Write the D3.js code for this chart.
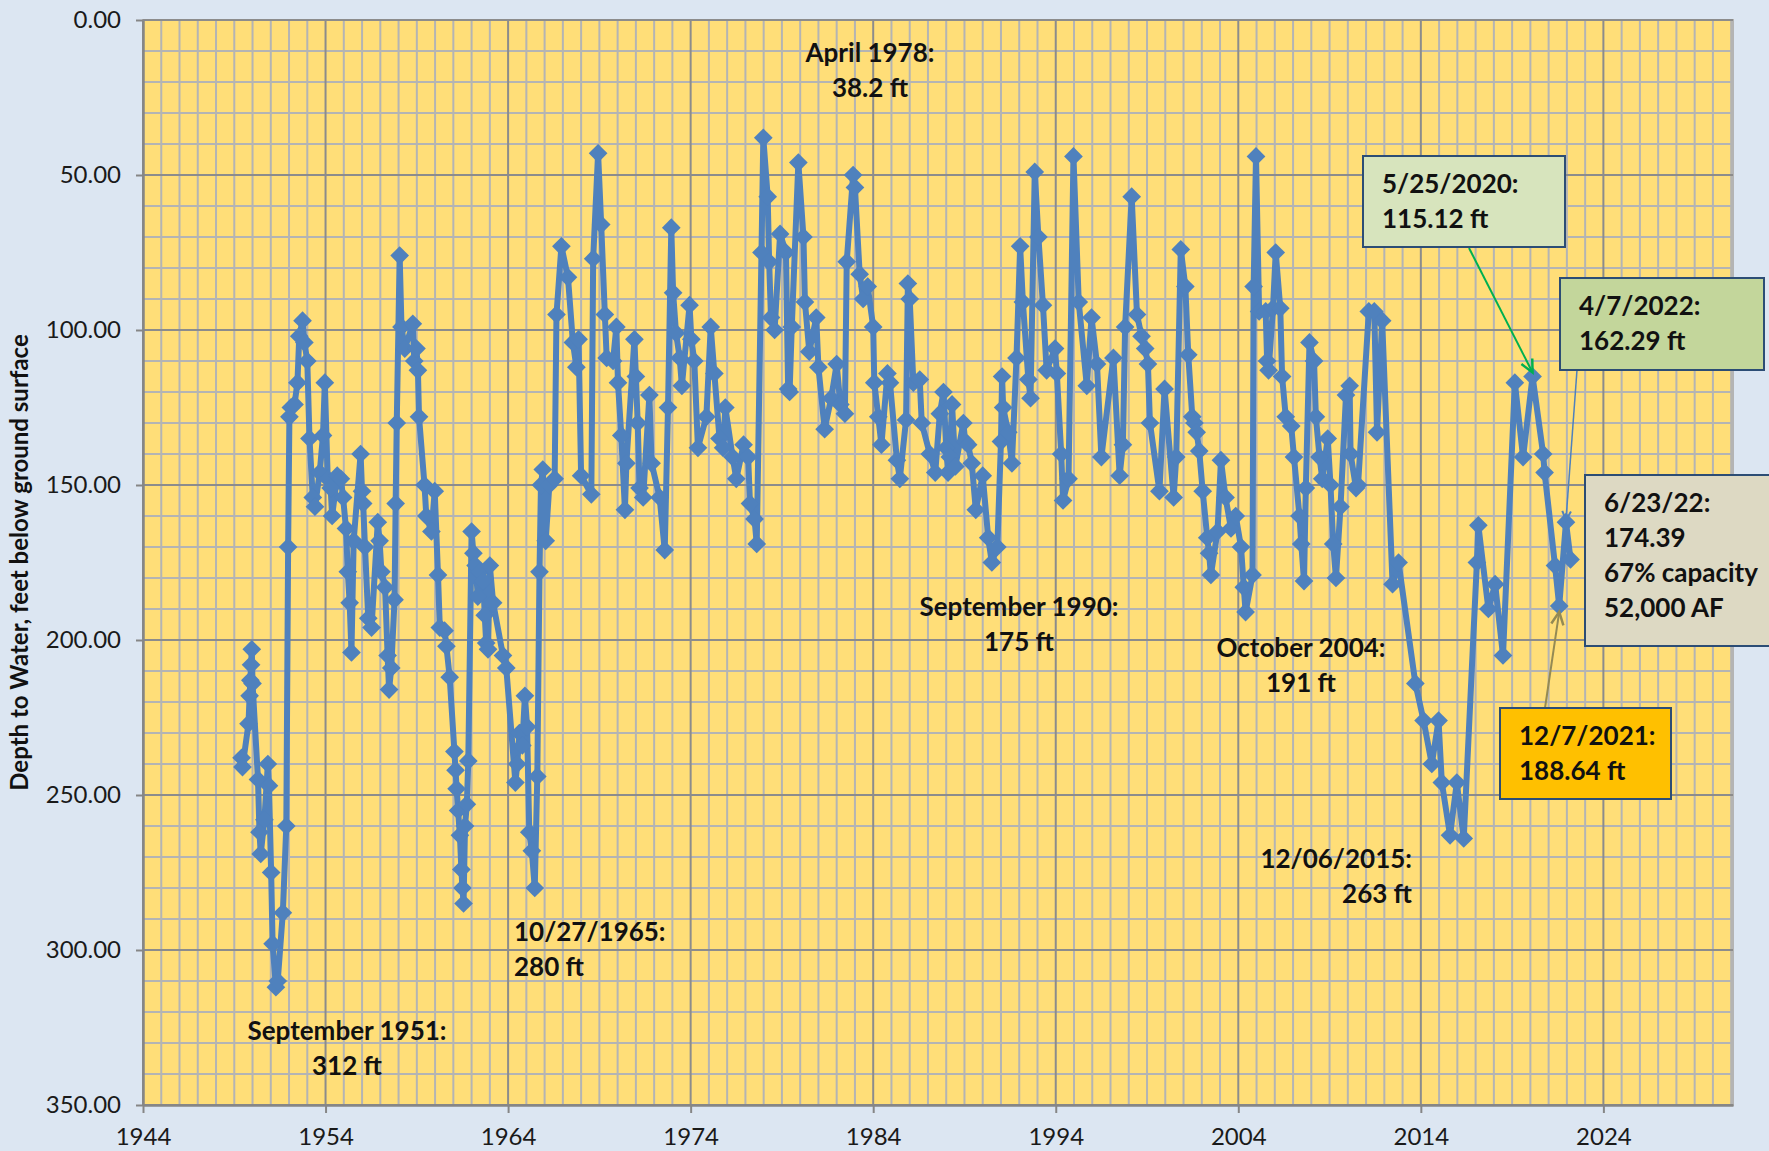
<!DOCTYPE html>
<html>
<head>
<meta charset="utf-8">
<script src="https://cdn.jsdelivr.net/npm/d3@7"></script>
<style>
  body { margin: 0; background: #dce6f2; }
  svg { display: block; }
</style>
</head>
<body>
<script>
(function(){

    //well readings: date (decimal year, as placed on the chart axis) and depth to water (ft)
    var readYears = [
        1949.40,1949.45,1949.78,1949.84,1949.88,1949.92,1949.96,1950.00,1950.30,1950.38,
        1950.45,1950.65,1950.84,1950.90,1951.02,1951.10,1951.28,1951.38,1951.66,1951.85,
        1951.95,1952.02,1952.10,1952.30,1952.46,1952.56,1952.74,1952.84,1953.00,1953.12,
        1953.30,1953.42,1953.68,1953.86,1953.96,1954.12,1954.28,1954.36,1954.64,1954.84,
        1954.96,1955.12,1955.22,1955.32,1955.42,1955.54,1955.92,1956.00,1956.06,1956.16,
        1956.34,1956.52,1956.86,1956.96,1957.06,1957.26,1957.40,1957.48,1957.60,1957.78,
        1957.84,1957.90,1958.06,1958.16,1958.34,1958.78,1958.86,1958.98,1959.06,1959.12,
        1959.42,1959.52,1959.80,1959.98,1960.16,1960.26,1960.52,1960.62,1960.80,1961.06,
        1961.12,1961.18,1961.26,1961.36,1961.44,1961.50,1961.56,1961.64,1961.74,1961.82,
        1962.00,1962.10,1962.22,1962.34,1962.46,1962.64,1962.72,1962.80,1962.90,1963.00,
        1963.18,1963.72,1963.90,1964.40,1964.50,1964.62,1964.78,1964.92,1965.04,1965.16,
        1965.30,1965.46,1965.60,1965.72,1965.80,1965.90,1966.06,1966.26,1966.55,1966.65,
        1966.92,1967.28,1967.55,1967.74,1967.86,1968.00,1968.56,1968.66,1968.93,1969.10,
        1969.30,1969.40,1969.75,1969.93,1970.02,1970.20,1970.40,1970.48,1970.92,1971.00,
        1971.10,1971.20,1971.40,1971.74,1971.86,1972.30,1972.58,1972.76,1972.94,1973.04,
        1973.20,1973.40,1973.52,1973.94,1974.04,1974.20,1974.40,1974.86,1975.10,1975.30,
        1975.58,1975.78,1975.90,1976.30,1976.50,1976.90,1977.15,1977.25,1977.50,1977.62,
        1977.88,1977.98,1978.22,1978.30,1978.40,1978.60,1978.90,1979.22,1979.34,1979.42,
        1979.54,1979.90,1980.18,1980.26,1980.50,1980.88,1981.00,1981.34,1981.70,1982.00,
        1982.20,1982.45,1982.55,1982.90,1983.00,1983.26,1983.45,1983.70,1984.00,1984.06,
        1984.28,1984.45,1984.78,1984.92,1985.30,1985.46,1985.80,1985.90,1986.00,1986.20,
        1986.55,1986.66,1987.10,1987.40,1987.65,1987.85,1988.00,1988.10,1988.20,1988.32,
        1988.50,1988.94,1989.04,1989.20,1989.40,1989.62,1990.00,1990.30,1990.50,1990.80,
        1991.00,1991.06,1991.12,1991.40,1991.60,1991.85,1992.05,1992.20,1992.50,1992.62,
        1992.85,1993.05,1993.30,1993.50,1993.96,1994.06,1994.30,1994.40,1994.70,1994.97,
        1995.26,1995.70,1995.96,1996.26,1996.50,1997.16,1997.50,1997.68,1997.80,1998.16,
        1998.45,1998.70,1998.90,1999.05,1999.16,1999.68,1999.96,2000.46,2000.60,2000.85,
        2001.10,2001.26,2001.48,2001.60,2001.72,2001.86,2002.05,2002.30,2002.40,2002.50,
        2002.86,2003.05,2003.30,2003.60,2003.86,2004.15,2004.30,2004.40,2004.78,2004.84,
        2004.97,2005.14,2005.50,2005.58,2005.66,2005.90,2006.05,2006.30,2006.40,2006.60,
        2006.90,2007.05,2007.35,2007.45,2007.60,2007.70,2007.90,2008.15,2008.25,2008.45,
        2008.60,2008.90,2009.05,2009.20,2009.35,2009.60,2009.90,2010.10,2010.15,2010.45,
        2010.56,2011.15,2011.45,2011.60,2011.88,2012.45,2012.78,2013.70,2014.15,2014.60,
        2014.97,2015.15,2015.60,2015.97,2016.35,2017.07,2017.15,2017.70,2018.07,2018.50,
        2019.15,2019.60,2020.12,2020.70,2020.78,2021.35,2021.58,2021.95,2022.20
    ];
    var readDepths = [
        238,241,227,218,213,208,203,214,245,262,
        269,258,240,247,275,298,312,310,288,260,
        170,128,125,124,117,102,97,104,110,135,
        154,157,146,134,117,148,151,160,147,148,
        154,164,178,188,204,168,140,152,156,170,
        193,196,162,168,178,183,205,216,209,187,
        156,130,76,99,106,98,110,106,113,128,
        150,160,165,152,179,196,197,202,212,236,
        242,248,255,263,274,280,285,260,253,239,
        165,172,176,186,178,181,192,201,203,176,
        188,205,209,246,240,230,234,218,228,262,
        268,280,244,178,150,145,168,150,148,95,
        73,83,104,112,103,147,153,77,43,66,
        95,109,110,99,117,134,158,143,103,115,
        130,151,154,121,143,154,171,125,67,88,
        101,109,118,92,103,110,138,128,99,114,
        135,138,125,141,148,137,141,156,161,169,
        75,38,57,78,96,100,69,75,119,120,
        99,46,70,91,107,96,112,132,122,111,
        124,127,78,50,54,82,90,86,99,117,
        128,137,114,117,142,148,129,85,90,117,
        116,130,140,146,127,120,138,146,141,124,
        144,130,136,137,143,158,147,167,175,170,
        136,115,125,133,143,109,73,91,116,122,
        49,70,92,113,106,114,140,155,148,44,
        91,118,96,111,141,109,147,137,99,57,
        95,102,106,111,130,152,119,154,141,74,
        86,108,128,130,133,139,152,167,172,179,
        165,142,154,164,160,170,183,191,179,86,
        44,94,94,110,113,93,75,93,115,128,
        131,141,160,169,181,151,104,110,128,141,
        148,135,150,169,180,157,121,118,140,151,
        150,94,94,133,97,182,175,214,226,240,
        226,246,263,246,264,175,163,190,182,205,
        117,141,115,140,146,176,189,162,174
    ];

    //axis ticks
    var xTickYears = [1944, 1954, 1964, 1974, 1984, 1994, 2004, 2014, 2024];
    var yTickDepths = [0, 50, 100, 150, 200, 250, 300, 350];
    var yTitle = "Depth to Water, feet below ground surface";

    //plain annotations: text lines and their anchor position
    var notes = [
        {lines: ["April 1978:", "38.2 ft"], x: 870, y: 62, anchor: "middle"},
        {lines: ["September 1951:", "312 ft"], x: 347, y: 1040, anchor: "middle"},
        {lines: ["10/27/1965:", "280 ft"], x: 514, y: 941, anchor: "start"},
        {lines: ["September 1990:", "175 ft"], x: 1019, y: 616, anchor: "middle"},
        {lines: ["October 2004:", "191 ft"], x: 1301, y: 657, anchor: "middle"},
        {lines: ["12/06/2015:", "263 ft"], x: 1412, y: 868, anchor: "end"}
    ];

    //call-out boxes; "target" is the reading year the pointer goes to
    var callouts = [
        {lines: ["5/25/2020:", "115.12 ft"], box: [1363, 156, 202, 91], fill: "#d7e4bd",
         from: [1469, 248], target: 2020.12, color: "#00b050", width: 2, dy: -4, head: 14},
        {lines: ["4/7/2022:", "162.29 ft"], box: [1560, 278, 204, 92], fill: "#c3d69b",
         from: [1577, 370], target: 2021.95, color: "#4f81bd", width: 1.5, dy: -2, head: 10},
        {lines: ["6/23/22:", "174.39", "67% capacity", "52,000 AF"], box: [1585, 475, 200, 171], fill: "#ddd9c3",
         from: null},
        {lines: ["12/7/2021:", "188.64 ft"], box: [1500, 708, 171, 91], fill: "#ffc000",
         from: [1545, 708], target: 2021.58, color: "#948a54", width: 2, dy: 6, head: 14}
    ];

    var width = 1769, height = 1151;
    var plotLeft = 143, plotRight = 1733, plotTop = 20, plotBottom = 1105;

    var svg = d3.select("body")
        .append("svg")
        .attr("width", width)
        .attr("height", height)
        .style("font-family", "Lato, 'Open Sans', sans-serif");

    svg.append("rect")
        .attr("width", width)
        .attr("height", height)
        .attr("fill", "#dce6f2");

    var x = d3.scaleLinear().domain([1944, 2031.1]).range([plotLeft, plotRight]);
    var y = d3.scaleLinear().domain([0, 350]).range([plotTop, plotBottom]);

    //plot area
    svg.append("rect")
        .attr("x", plotLeft)
        .attr("y", plotTop)
        .attr("width", plotRight - plotLeft)
        .attr("height", plotBottom - plotTop)
        .attr("fill", "#ffde78")
        .attr("stroke", "#b4b4b4")
        .attr("stroke-width", 2);

    //minor grid: every year, every 10 ft
    var minorYears = d3.range(1945, 2032).filter(function(d){ return (d - 1944) % 10 != 0; });
    var minorDepths = d3.range(10, 350, 10).filter(function(d){ return d % 50 != 0; });

    var grid = svg.append("g");
    grid.selectAll(".vminor")
        .data(minorYears)
        .enter()
        .append("line")
        .attr("x1", function(d){ return x(d); })
        .attr("x2", function(d){ return x(d); })
        .attr("y1", plotTop)
        .attr("y2", plotBottom)
        .attr("stroke", "#b4b4b4")
        .attr("stroke-width", 2);

    grid.selectAll(".hminor")
        .data(minorDepths)
        .enter()
        .append("line")
        .attr("x1", plotLeft)
        .attr("x2", plotRight)
        .attr("y1", function(d){ return y(d); })
        .attr("y2", function(d){ return y(d); })
        .attr("stroke", "#b4b4b4")
        .attr("stroke-width", 2);

    //major grid
    grid.selectAll(".vmajor")
        .data(xTickYears)
        .enter()
        .append("line")
        .attr("x1", function(d){ return x(d); })
        .attr("x2", function(d){ return x(d); })
        .attr("y1", plotTop)
        .attr("y2", plotBottom)
        .attr("stroke", "#8c8c8c")
        .attr("stroke-width", 2);

    grid.selectAll(".hmajor")
        .data(yTickDepths)
        .enter()
        .append("line")
        .attr("x1", plotLeft)
        .attr("x2", plotRight)
        .attr("y1", function(d){ return y(d); })
        .attr("y2", function(d){ return y(d); })
        .attr("stroke", "#8c8c8c")
        .attr("stroke-width", 2);

    //axes
    var xAxis = d3.axisBottom(x)
        .tickValues(xTickYears)
        .tickFormat(d3.format("d"))
        .tickSizeInner(8)
        .tickSizeOuter(0)
        .tickPadding(15);

    var yAxis = d3.axisLeft(y)
        .tickValues(yTickDepths)
        .tickFormat(d3.format(".2f"))
        .tickSizeInner(7)
        .tickSizeOuter(0)
        .tickPadding(15);

    var gx = svg.append("g")
        .attr("transform", "translate(0," + plotBottom + ")")
        .call(xAxis);
    var gy = svg.append("g")
        .attr("transform", "translate(" + plotLeft + ",0)")
        .call(yAxis);

    [gx, gy].forEach(function(g){
        g.select(".domain").attr("stroke", "#868686").attr("stroke-width", 2.5);
        g.selectAll(".tick line").attr("stroke", "#868686").attr("stroke-width", 2);
        g.selectAll(".tick text")
            .attr("fill", "#1a1a1a")
            .style("font-family", "Lato, sans-serif")
            .style("font-size", "24px");
    });

    svg.append("text")
        .attr("transform", "translate(28," + ((plotTop + plotBottom) / 2) + ") rotate(-90)")
        .attr("text-anchor", "middle")
        .attr("font-weight", "bold")
        .attr("font-size", 24)
        .attr("fill", "#111")
        .text(yTitle);

    //series
    var readings = readYears.map(function(d, i){ return {year: d, depth: readDepths[i]}; });

    var line = d3.line()
        .x(function(d){ return x(d.year); })
        .y(function(d){ return y(d.depth); });

    svg.append("path")
        .datum(readings)
        .attr("fill", "none")
        .attr("stroke", "#4f81bd")
        .attr("stroke-width", 6)
        .attr("stroke-linejoin", "round")
        .attr("d", line);

    var diamond = d3.symbol().type(d3.symbolSquare).size(175);
    svg.selectAll(".marker")
        .data(readings)
        .enter()
        .append("path")
        .attr("d", diamond)
        .attr("transform", function(d){
            return "translate(" + x(d.year) + "," + y(d.depth) + ") rotate(45)";
        })
        .attr("fill", "#4f81bd");

    //annotations
    var lineGap = 35;
    notes.forEach(function(n){
        var t = svg.append("text")
            .attr("text-anchor", n.anchor)
            .attr("font-weight", "bold")
            .attr("font-size", 26)
            .attr("fill", "#111");
        n.lines.forEach(function(s, i){
            t.append("tspan")
                .attr("x", n.x)
                .attr("y", n.y + i * lineGap)
                .text(s);
        });
    });

    //pointer lines with open arrow heads
    callouts.forEach(function(c){
        if (!c.from) return;
        var p = readings.filter(function(d){ return d.year == c.target; })[0];
        var tx = x(p.year), ty = y(p.depth) + c.dy;
        svg.append("line")
            .attr("x1", c.from[0]).attr("y1", c.from[1])
            .attr("x2", tx).attr("y2", ty)
            .attr("stroke", c.color)
            .attr("stroke-width", c.width);
        var ang = Math.atan2(ty - c.from[1], tx - c.from[0]);
        var a1 = ang + Math.PI - 0.45, a2 = ang + Math.PI + 0.45;
        svg.append("path")
            .attr("d", "M" + (tx + c.head * Math.cos(a1)) + "," + (ty + c.head * Math.sin(a1)) +
                       "L" + tx + "," + ty +
                       "L" + (tx + c.head * Math.cos(a2)) + "," + (ty + c.head * Math.sin(a2)))
            .attr("fill", "none")
            .attr("stroke", c.color)
            .attr("stroke-width", c.width + 0.5);
    });

    callouts.forEach(function(c){
        svg.append("rect")
            .attr("x", c.box[0]).attr("y", c.box[1])
            .attr("width", c.box[2]).attr("height", c.box[3])
            .attr("fill", c.fill)
            .attr("stroke", "#2c4d75")
            .attr("stroke-width", 2);
        var t = svg.append("text")
            .attr("font-weight", "bold")
            .attr("font-size", 26)
            .attr("fill", "#111");
        c.lines.forEach(function(s, i){
            t.append("tspan")
                .attr("x", c.box[0] + 19)
                .attr("y", c.box[1] + 37 + i * lineGap)
                .text(s);
        });
    });

})();
</script>
</body>
</html>
